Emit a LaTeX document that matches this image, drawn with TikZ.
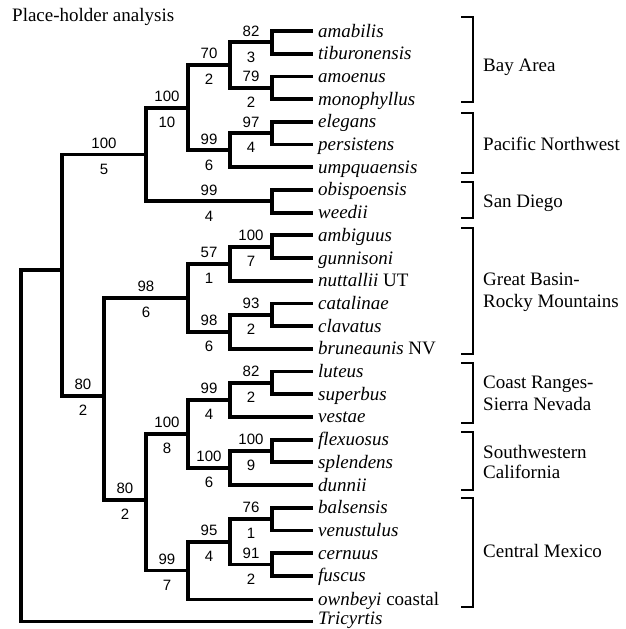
\documentclass[tikz,border=0pt]{standalone}
\usepackage{fontspec}
\setmainfont{Liberation Serif}
\setsansfont{Liberation Sans}
\usetikzlibrary{positioning}
\tikzset{branch/.style = {line width=3.8pt},
         bracket/.style = {line width=2.4pt},
         leaf/.style = {anchor=west, inner xsep=5pt, inner ysep=0pt,
                        text height=14pt, text depth=2pt,
                        font=\fontsize{19}{22}\selectfont\itshape},
         region/.style = {anchor=base west, align=left, inner sep=0pt,
                          font=\fontsize{19}{22}\selectfont},
         boot/.style = {pos=.75, above=3pt, inner sep=1pt,
                        font=\fontsize{15}{18}\selectfont\sffamily},
         decay/.style = {pos=.75, below=6.5pt, inner sep=1pt,
                         font=\fontsize{15}{18}\selectfont\sffamily}}
\newcommand{\cladebar}[2]{\draw[bracket] (461,#1) -- (473,#1) -- (473,#2) -- (461,#2);}

\begin{document}
\begin{tikzpicture}[x=1pt, y=-1pt]
    \useasboundingbox (0,0) rectangle (626,629);
    \node[anchor=base west, inner sep=0pt, font=\fontsize{19}{22}\selectfont] (title) at (12,21.5) {Place-holder analysis};

    % tips
    \node[leaf] (amabilis) at (313,31.0) {amabilis};
    \node[leaf] (tiburonensis) at (313,53.7) {tiburonensis};
    \node[leaf] (amoenus) at (313,76.4) {amoenus};
    \node[leaf] (monophyllus) at (313,99.1) {monophyllus};
    \node[leaf] (elegans) at (313,121.8) {elegans};
    \node[leaf] (persistens) at (313,144.5) {persistens};
    \node[leaf] (umpquaensis) at (313,167.2) {umpquaensis};
    \node[leaf] (obispoensis) at (313,189.9) {obispoensis};
    \node[leaf] (weedii) at (313,212.6) {weedii};
    \node[leaf] (ambiguus) at (313,235.3) {ambiguus};
    \node[leaf] (gunnisoni) at (313,258.0) {gunnisoni};
    \node[leaf] (nuttallii) at (313,280.7) {nuttallii \textup{UT}};
    \node[leaf] (catalinae) at (313,303.4) {catalinae};
    \node[leaf] (clavatus) at (313,326.1) {clavatus};
    \node[leaf] (bruneaunis) at (313,348.8) {bruneaunis \textup{NV}};
    \node[leaf] (luteus) at (313,371.5) {luteus};
    \node[leaf] (superbus) at (313,394.2) {superbus};
    \node[leaf] (vestae) at (313,416.9) {vestae};
    \node[leaf] (flexuosus) at (313,439.6) {flexuosus};
    \node[leaf] (splendens) at (313,462.3) {splendens};
    \node[leaf] (dunnii) at (313,485.0) {dunnii};
    \node[leaf] (balsensis) at (313,507.7) {balsensis};
    \node[leaf] (venustulus) at (313,530.4) {venustulus};
    \node[leaf] (cernuus) at (313,553.1) {cernuus};
    \node[leaf] (fuscus) at (313,575.8) {fuscus};
    \node[leaf] (ownbeyi) at (313,599.5) {ownbeyi \textup{coastal}};
    \node[leaf, text height=11pt, text depth=5pt] (tricyrtis) at (313,621.5) {Tricyrtis};

    % internal nodes
    \coordinate (root) at (21,445);
    \coordinate (ingroup) at (62,270);
    \coordinate (westclade) at (146,154.5);
    \coordinate (north) at (188,107.6);
    \coordinate (bay) at (230,65);
    \coordinate (amab) at (272,42.3);
    \coordinate (amoen) at (272,87.8);
    \coordinate (pnw) at (230,150.2);
    \coordinate (eleg) at (272,133.2);
    \coordinate (sandiego) at (272,201.3);
    \coordinate (interior) at (104,396);
    \coordinate (basin) at (188,297.7);
    \coordinate (basinA) at (230,263.7);
    \coordinate (ambig) at (272,246.7);
    \coordinate (basinB) at (230,331.8);
    \coordinate (catal) at (272,314.8);
    \coordinate (south) at (146,500);
    \coordinate (calif) at (188,434);
    \coordinate (coast) at (230,399.9);
    \coordinate (lute) at (272,382.9);
    \coordinate (swcal) at (230,468);
    \coordinate (flex) at (272,451);
    \coordinate (mexico) at (188,570.5);
    \coordinate (mexA) at (230,541.8);
    \coordinate (bals) at (272,519);
    \coordinate (cern) at (272,564.5);

    % branches
    \draw[branch] (root) |- (ingroup);
    \draw[branch] (root) |- (tricyrtis.west);
    \draw[branch] (ingroup) |- (westclade) node[boot]{100} node[decay]{5};
    \draw[branch] (ingroup) |- (interior) node[boot]{80} node[decay]{2};

    \draw[branch] (westclade) |- (north) node[boot]{100} node[decay]{10};
    \draw[branch] (westclade) |- (sandiego) node[boot]{99} node[decay]{4};
    \draw[branch] (north) |- (bay) node[boot]{70} node[decay]{2};
    \draw[branch] (north) |- (pnw) node[boot]{99} node[decay]{6};
    \draw[branch] (bay) |- (amab) node[boot]{82} node[decay]{3};
    \draw[branch] (bay) |- (amoen) node[boot]{79} node[decay]{2};
    \draw[branch] (amab) |- (amabilis.west);
    \draw[branch] (amab) |- (tiburonensis.west);
    \draw[branch] (amoen) |- (amoenus.west);
    \draw[branch] (amoen) |- (monophyllus.west);
    \draw[branch] (pnw) |- (eleg) node[boot]{97} node[decay]{4};
    \draw[branch] (pnw) |- (umpquaensis.west);
    \draw[branch] (eleg) |- (elegans.west);
    \draw[branch] (eleg) |- (persistens.west);
    \draw[branch] (sandiego) |- (obispoensis.west);
    \draw[branch] (sandiego) |- (weedii.west);

    \draw[branch] (interior) |- (basin) node[boot]{98} node[decay]{6};
    \draw[branch] (interior) |- (south) node[boot]{80} node[decay]{2};
    \draw[branch] (basin) |- (basinA) node[boot]{57} node[decay]{1};
    \draw[branch] (basin) |- (basinB) node[boot]{98} node[decay]{6};
    \draw[branch] (basinA) |- (ambig) node[boot]{100} node[decay]{7};
    \draw[branch] (basinA) |- (nuttallii.west);
    \draw[branch] (ambig) |- (ambiguus.west);
    \draw[branch] (ambig) |- (gunnisoni.west);
    \draw[branch] (basinB) |- (catal) node[boot]{93} node[decay]{2};
    \draw[branch] (basinB) |- (bruneaunis.west);
    \draw[branch] (catal) |- (catalinae.west);
    \draw[branch] (catal) |- (clavatus.west);

    \draw[branch] (south) |- (calif) node[boot]{100} node[decay]{8};
    \draw[branch] (south) |- (mexico) node[boot]{99} node[decay]{7};
    \draw[branch] (calif) |- (coast) node[boot]{99} node[decay]{4};
    \draw[branch] (calif) |- (swcal) node[boot]{100} node[decay]{6};
    \draw[branch] (coast) |- (lute) node[boot]{82} node[decay]{2};
    \draw[branch] (coast) |- (vestae.west);
    \draw[branch] (lute) |- (luteus.west);
    \draw[branch] (lute) |- (superbus.west);
    \draw[branch] (swcal) |- (flex) node[boot]{100} node[decay]{9};
    \draw[branch] (swcal) |- (dunnii.west);
    \draw[branch] (flex) |- (flexuosus.west);
    \draw[branch] (flex) |- (splendens.west);
    \draw[branch] (mexico) |- (mexA) node[boot]{95} node[decay]{4};
    \draw[branch] (mexico) |- (ownbeyi.west);
    \draw[branch] (mexA) |- (bals) node[boot]{76} node[decay]{1};
    \draw[branch] (mexA) |- (cern) node[boot]{91} node[decay]{2};
    \draw[branch] (bals) |- (balsensis.west);
    \draw[branch] (bals) |- (venustulus.west);
    \draw[branch] (cern) |- (cernuus.west);
    \draw[branch] (cern) |- (fuscus.west);

    % regions
    \cladebar{17}{102}
    \cladebar{113}{173}
    \cladebar{182}{218}
    \cladebar{228}{354}
    \cladebar{363}{423}
    \cladebar{432}{490}
    \cladebar{498}{607}
    \node[region] (bayarea) at (483,71.7) {Bay Area};
    \node[region] (pacificnw) at (483,150.5) {Pacific Northwest};
    \node[region] (sandiegolbl) at (483,207) {San Diego};
    \node[region] (greatbasin) at (483,307) {Great Basin-\\Rocky Mountains};
    \node[region] (coastranges) at (483,410) {Coast Ranges-\\Sierra Nevada};
    \node[region] (southwestern) at (483,478) {Southwestern\\[-2pt]California};
    \node[region] (centralmexico) at (483,557.7) {Central Mexico};
\end{tikzpicture}
\end{document}
